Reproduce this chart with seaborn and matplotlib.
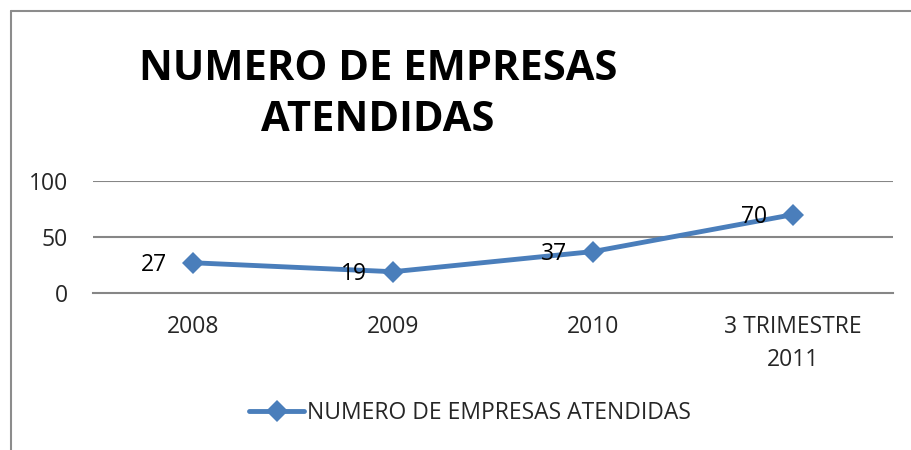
import matplotlib
matplotlib.use("Agg")
import matplotlib.pyplot as plt
import seaborn as sns
import pandas as pd
from matplotlib.lines import Line2D

categories = ["2008", "2009", "2010", "3 TRIMESTRE\n2011"]
values = [27, 19, 37, 70]
series_name = "NUMERO DE EMPRESAS ATENDIDAS"
title_text = "NUMERO DE EMPRESAS\nATENDIDAS"
yticks = [0, 50, 100]

sns.set_theme(style="white")
plt.rcParams['font.family'] = ['Open Sans', 'DejaVu Sans']

color = "#4A7EBB"
grid_color = "#868686"
fs = 16.5

df = pd.DataFrame({"cat": range(len(categories)), "val": values})

fig = plt.figure(figsize=(9.11, 4.5), dpi=100)
ax = fig.add_axes([93/911, 1-293/450, 800/911, 112/450])

sns.lineplot(data=df, x="cat", y="val", ax=ax, color=color, linewidth=3.5,
             marker="D", markersize=11, markeredgewidth=0, legend=False)

ax.set_xlim(-0.5, len(categories) - 0.5)
ax.set_ylim(0, 100)
ax.set_yticks(yticks)
ax.set_yticklabels([str(t) for t in yticks], fontsize=fs)
ax.set_xticks(range(len(categories)))
ax.set_xticklabels(categories, fontsize=fs, linespacing=1.5)
ax.tick_params(axis="x", length=0, pad=16)
ax.tick_params(axis="y", length=0, pad=18)
ax.set_xlabel("")
ax.set_ylabel("")
for s in ["top", "right", "left"]:
    ax.spines[s].set_visible(False)
ax.spines["bottom"].set_color(grid_color)
ax.spines["bottom"].set_linewidth(1.5)
for t in yticks[1:]:
    ax.axhline(t, color=grid_color, linewidth=1.5, zorder=0)

for i, v in enumerate(values):
    ax.annotate(str(v), (i, v), xytext=(-28, -1.5), textcoords="offset points",
                ha="center", va="center", fontsize=fs, color="black")

fig.text(378/911, 1-95/450, title_text, ha="center", va="center",
         fontsize=30, fontweight="bold", linespacing=1.35, color="black")

handle = Line2D([], [], color=color, linewidth=3.5, marker="D", markersize=11,
                markeredgewidth=0)
fig.legend([handle], [series_name], loc="center", bbox_to_anchor=(470/911, 1-413/450),
           frameon=False, fontsize=fs, handlelength=2.4, handletextpad=0.1)

# chart border (left and top edges visible)
fig.add_artist(Line2D([11/911, 11/911], [0, 1-11/450], transform=fig.transFigure,
                      color="#8c8c8c", linewidth=1.5))
fig.add_artist(Line2D([11/911, 1], [1-11/450, 1-11/450], transform=fig.transFigure,
                      color="#8c8c8c", linewidth=1.5))

fig.savefig("out.png", dpi=100)
